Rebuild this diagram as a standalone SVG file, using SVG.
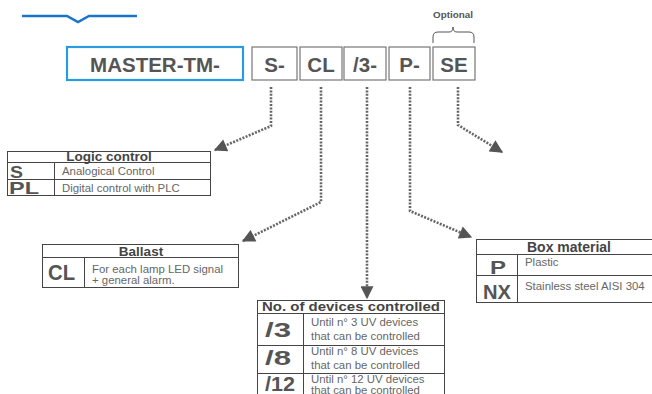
<svg xmlns="http://www.w3.org/2000/svg" width="652" height="394" viewBox="0 0 652 394">
<style>
.box{fill:#fff;stroke:#777;stroke-width:1.2}
.tb{fill:#fff;stroke:#444;stroke-width:1}
.ln{stroke:#444;stroke-width:1;fill:none}
.code{font-family:"Liberation Sans",Arial,sans-serif;font-weight:bold;font-size:20.5px;fill:#555}
.big{font-family:"Liberation Sans",Arial,sans-serif;font-weight:bold;font-size:18px;fill:#555}
.hd{font-family:"Liberation Sans",Arial,sans-serif;font-weight:bold;font-size:13.5px;fill:#444}
.tx{font-family:"Liberation Sans",Arial,sans-serif;font-size:11.4px;fill:#666}
.con{fill:none;stroke:#666;stroke-width:2.6;stroke-dasharray:2 1.4}
</style>
<defs>
<marker id="ah" viewBox="0 0 10 10" refX="9" refY="5" markerWidth="5.5" markerHeight="5" orient="auto" markerUnits="strokeWidth">
<path d="M0,0 L10,5 L0,10 Z" fill="#555"/>
</marker>
</defs>
<path d="M22,16 L67,16 L78,22 L89,16 L137,16" fill="none" stroke="#1a74cc" stroke-width="2.5"/>
<g id="optional">
<text x="433" y="18" textLength="40" lengthAdjust="spacingAndGlyphs" font-family="Liberation Sans,Arial,sans-serif" font-weight="bold" font-size="8.5px" fill="#555">Optional</text>
<path d="M433,43 L433,37 Q433,32 438,32 L449,32 Q453,32 453,27 Q453,32 457,32 L469,32 Q474,32 474,37 L474,43" fill="none" stroke="#555" stroke-width="1"/>
</g>
<g id="master"><rect x="67" y="47" width="176" height="33" fill="#fff" stroke="#2b9be0" stroke-width="2.2"/><text x="155" y="71.5" text-anchor="middle" class="code">MASTER-TM-</text></g>
<g id="b-s"><rect class="box" x="252" y="47" width="45" height="33"/><text x="274.5" y="71.5" text-anchor="middle" class="code">S-</text></g>
<g id="b-cl"><rect class="box" x="300" y="47" width="42" height="33"/><text x="321" y="71.5" text-anchor="middle" class="code">CL</text></g>
<g id="b-3"><rect class="box" x="344" y="47" width="42" height="33"/><text x="365" y="71.5" text-anchor="middle" class="code">/3-</text></g>
<g id="b-p"><rect class="box" x="389" y="47" width="41" height="33"/><text x="409.5" y="71.5" text-anchor="middle" class="code">P-</text></g>
<g id="b-se"><rect class="box" x="433" y="47" width="42" height="33"/><text x="454" y="71.5" text-anchor="middle" class="code">SE</text></g>
<g id="connectors">
<path class="con" d="M271,87 L271,126 L215,150" marker-end="url(#ah)"/>
<path class="con" d="M321,87 L321,202 L243,241" marker-end="url(#ah)"/>
<path class="con" d="M367,87 L367,298" marker-end="url(#ah)"/>
<path class="con" d="M410,87 L410,211 L471,237" marker-end="url(#ah)"/>
<path class="con" d="M458,87 L458,125 L502,152" marker-end="url(#ah)"/>
</g>
<g id="logic">
<rect class="tb" x="7.5" y="151.5" width="203" height="44"/>
<path class="ln" d="M7.5,162.5 H210.5 M7.5,179.5 H210.5 M54.5,162.5 V195.5"/>
<text x="109" y="161" text-anchor="middle" class="hd">Logic control</text>
<text x="10" y="177.5" textLength="13" lengthAdjust="spacingAndGlyphs" class="big" style="font-size:16.5px">S</text>
<text x="9" y="194" textLength="30" lengthAdjust="spacingAndGlyphs" class="big" style="font-size:16.5px">PL</text>
<text x="62" y="175" class="tx">Analogical Control</text>
<text x="62" y="191.5" class="tx">Digital control with PLC</text>
</g>
<g id="ballast">
<rect class="tb" x="42.5" y="244.5" width="196" height="43"/>
<path class="ln" d="M42.5,257.5 H238.5 M84.5,257.5 V287.5"/>
<text x="141" y="255.5" text-anchor="middle" class="hd">Ballast</text>
<text x="48" y="279.5" textLength="27" lengthAdjust="spacingAndGlyphs" class="big" style="font-size:22px">CL</text>
<text x="92" y="272.5" class="tx">For each lamp LED signal</text>
<text x="92" y="283.5" class="tx">+ general alarm.</text>
</g>
<g id="devices">
<rect class="tb" x="257.5" y="300.5" width="187" height="100"/>
<path class="ln" d="M257.5,313.5 H444.5 M257.5,345.5 H444.5 M257.5,373.5 H444.5 M303.5,313.5 V400"/>
<text x="351" y="311" text-anchor="middle" textLength="178" lengthAdjust="spacingAndGlyphs" class="hd">No. of devices controlled</text>
<text x="265" y="336.5" textLength="26" lengthAdjust="spacingAndGlyphs" class="big" style="font-size:21px">/3</text>
<text x="265" y="365" textLength="26" lengthAdjust="spacingAndGlyphs" class="big" style="font-size:21px">/8</text>
<text x="265" y="391" textLength="30" lengthAdjust="spacingAndGlyphs" class="big" style="font-size:21px">/12</text>
<text x="311" y="326" class="tx">Until n° 3 UV devices</text>
<text x="311" y="339.5" class="tx">that can be controlled</text>
<text x="311" y="355" class="tx">Until n° 8 UV devices</text>
<text x="311" y="368.5" class="tx">that can be controlled</text>
<text x="311" y="382.5" class="tx">Until n° 12 UV devices</text>
<text x="311" y="394" class="tx">that can be controlled</text>
</g>
<g id="box">
<rect class="tb" x="476.5" y="239.5" width="190" height="63"/>
<path class="ln" d="M476.5,254.5 H660 M476.5,275.5 H660 M517.5,254.5 V302.5"/>
<text x="569" y="251.5" text-anchor="middle" class="hd" style="font-size:14px">Box material</text>
<text x="490" y="274" textLength="16" lengthAdjust="spacingAndGlyphs" class="big" style="font-size:19px">P</text>
<text x="483" y="298.5" textLength="28" lengthAdjust="spacingAndGlyphs" class="big" style="font-size:21px">NX</text>
<text x="525" y="266" class="tx">Plastic</text>
<text x="525" y="289.5" class="tx">Stainless steel AISI 304</text>
</g>
</svg>
